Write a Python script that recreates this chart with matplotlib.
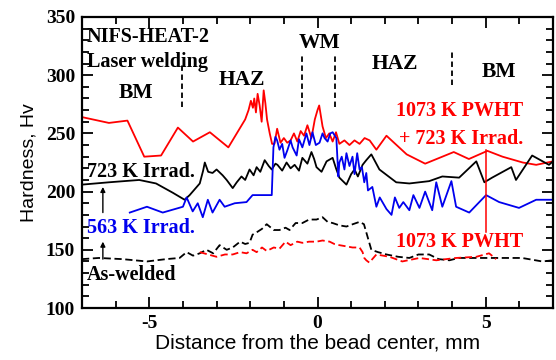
import matplotlib
matplotlib.use('Agg')
import matplotlib.pyplot as plt
import numpy as np

plt.rcParams['axes.unicode_minus'] = False

# 1073 K PWHT + 723 K Irrad. (red solid)
red_x = [-7.0, -6.2, -5.65, -5.15, -4.65, -4.15, -3.7, -3.2, -2.65, -2.15, -2.05, -1.98, -1.92, -1.88,
         -1.83, -1.78, -1.72, -1.66, -1.6, -1.55, -1.5, -1.42, -1.35, -1.28, -1.2, -1.1, -1.0, -0.9,
         -0.8, -0.7, -0.6, -0.5, -0.4, -0.3, -0.18, -0.08, 0.0, 0.05, 0.15, 0.25, 0.35, 0.45, 0.55,
         0.65, 0.8, 0.95, 1.1, 1.25, 1.4, 1.55, 1.75, 2.05, 2.65, 3.2, 4.05, 4.5, 5.05, 5.5, 6.1, 6.5, 7.0]
red_y = [264, 259, 261, 230, 231, 255, 243, 251, 238, 262, 270, 278, 272, 280,
         268, 284, 274, 260, 287, 276, 262, 250, 241, 241, 254, 242, 246, 242,
         244, 250, 243, 252, 248, 257, 246, 262, 270, 274, 256, 246, 250, 243, 251,
         241, 244, 240, 244, 241, 246, 244, 236, 248, 232, 224, 234, 228, 235, 230, 225, 223, 226]

# 723 K Irrad. (black solid)
blk_x = [-7.0, -6.2, -5.3, -4.8, -4.3, -3.95, -3.8, -3.5, -3.4, -3.35, -3.25, -3.12, -3.0, -2.82,
         -2.7, -2.52, -2.4, -2.26, -2.15, -2.02, -1.9, -1.81, -1.7, -1.57, -1.45, -1.36, -1.25, -1.19,
         -1.05, -0.92, -0.8, -0.68, -0.55, -0.45, -0.3, -0.18, -0.1, -0.03, 0.12, 0.27, 0.45, 0.55,
         0.65, 0.86, 1.0, 1.1, 1.2, 1.34, 1.45, 1.6, 1.84, 2.34, 2.73, 3.32, 3.71, 4.21, 4.72, 4.96,
         5.19, 5.76, 5.9, 6.38, 6.88, 7.0]
blk_y = [206, 208, 210, 207, 199, 193, 197, 207, 218, 225, 217, 216, 219, 214,
         210, 203, 208, 213, 210, 219, 214, 221, 217, 227, 222, 219, 224, 223,
         218, 225, 220, 223, 218, 229, 224, 234, 228, 221, 217, 226, 229, 220,
         212, 206, 215, 219, 213, 223, 227, 232, 219, 208, 207, 209, 213, 212, 226, 208,
         212, 221, 210, 231, 223, 226]

# 563 K Irrad. (blue solid)
blu_x = [-5.58, -5.07, -4.6, -4.0, -3.89, -3.71, -3.56, -3.41, -3.26, -3.12, -2.91, -2.76, -2.46,
         -2.11, -1.93, -1.66, -1.36, -1.31, -1.25, -1.2, -1.13, -1.05, -0.98, -0.89, -0.8, -0.74,
         -0.62, -0.55, -0.45, -0.33, -0.24, -0.15, -0.05, 0.06, 0.15, 0.21, 0.3, 0.38, 0.45, 0.56,
         0.62, 0.65, 0.72, 0.8, 0.86, 0.95, 1.04, 1.1, 1.18, 1.25, 1.32, 1.39, 1.45, 1.5, 1.63,
         1.75, 1.85, 1.93, 2.05, 2.2, 2.3, 2.43, 2.55, 2.73, 2.85, 3.03, 3.2, 3.41, 3.53, 3.71,
         3.98, 4.12, 4.51, 5.01, 5.4, 5.99, 6.5, 7.0]
blu_y = [182, 187, 182, 187, 195, 183, 190, 178, 193, 182, 193, 187, 190,
         191, 197, 197, 197, 238, 247, 244, 236, 241, 229, 236, 244, 238,
         231, 245, 238, 250, 240, 251, 240, 242, 250, 246, 243, 250, 251, 246,
         213, 225, 230, 219, 233, 222, 230, 215, 233, 219, 221, 208, 216, 201, 204,
         187, 195, 191, 185, 180, 195, 186, 191, 184, 197, 186, 200, 184, 208, 187,
         209, 187, 182, 197, 191, 186, 193, 193]

# As-welded (black dashed)
asw_x = [-7.0, -6.5, -5.8, -5.07, -4.5, -4.1, -3.89, -3.7, -3.5, -3.3, -3.1, -2.91, -2.7, -2.52,
         -2.3, -2.15, -2.02, -1.93, -1.81, -1.65, -1.51, -1.3, -1.13, -0.95, -0.83, -0.65, -0.45,
         -0.25, -0.03, 0.15, 0.3, 0.45, 0.65, 0.86, 1.05, 1.25, 1.38, 1.45, 1.52, 1.6, 1.8, 2.05,
         2.4, 2.73, 3.0, 3.32, 3.6, 3.92, 4.2, 4.51, 5.0, 5.49, 6.08, 6.68, 7.0]
asw_y = [142, 143, 142, 140, 142, 143, 148, 145, 147, 150, 147, 154, 150, 152,
         157, 155, 156, 163, 165, 168, 172, 167, 167, 169, 167, 173, 173,
         176, 176, 178, 174, 173, 171, 170, 172, 174, 172, 165, 158, 150, 148, 146,
         144, 143, 146, 146, 142, 141, 143, 143, 143, 143, 143, 140, 141]

# 1073 K PWHT (red dashed)
pw_x = [-3.5, -3.25, -3.0, -2.75, -2.52, -2.3, -2.11, -1.93, -1.81, -1.65, -1.51, -1.3, -1.13,
        -0.95, -0.8, -0.6, -0.45, -0.25, -0.03, 0.15, 0.36, 0.5, 0.65, 0.85, 1.04, 1.25, 1.34,
        1.39, 1.45, 1.54, 1.75, 2.14, 2.52, 3.03, 3.53, 4.12, 4.72, 5.1, 5.31]
pw_y = [148, 146, 144, 146, 146, 148, 147, 150, 148, 152, 149, 152, 151,
        157, 154, 157, 156, 157, 157, 158, 157, 155, 154, 153, 152, 152, 148,
        143, 141, 139, 146, 144, 140, 143, 141, 143, 144, 147, 142]

# zone boundaries (x, y from, y to)
bounds = [(-4.04, 273, 310), (-0.47, 273, 317), (0.53, 273, 317), (4.0, 292, 320)]
zones = [('BM', -5.4, 285), ('HAZ', -2.26, 296), ('WM', 0.06, 328), ('HAZ', 2.31, 310), ('BM', 5.4, 303)]

serif = 'Liberation Serif'
sans = 'Liberation Sans'
fs = 14.5

fig = plt.figure(figsize=(5.56, 3.6), dpi=100)
ax = fig.add_axes([0.1475, 0.1444, 0.8471, 0.8084])

ax.plot(red_x, red_y, color='#ff0000', lw=1.3)
ax.plot(blk_x, blk_y, color='black', lw=1.3)
ax.plot(blu_x, blu_y, color='#0000ee', lw=1.3)
ax.plot(asw_x, asw_y, color='black', lw=1.3, ls=(0, (4, 2)))
ax.plot(pw_x, pw_y, color='#ff0000', lw=1.3, ls=(0, (4, 2)))

for bx, y0, y1 in bounds:
    ax.plot([bx, bx], [y0, y1], color='black', lw=1.3, ls=(0, (3, 2)))

for name, zx, zy in zones:
    ax.text(zx, zy, name, ha='center', va='center', family=serif, weight='bold', fontsize=15.5)

ax.text(-6.85, 333, 'NIFS-HEAT-2', ha='left', va='center', family=serif, weight='bold', fontsize=fs)
ax.text(-6.85, 311, 'Laser welding', ha='left', va='center', family=serif, weight='bold', fontsize=fs)
ax.text(-6.85, 217, '723 K Irrad.', ha='left', va='center', family=serif, weight='bold', fontsize=fs)
ax.text(-6.85, 169, '563 K Irrad.', ha='left', va='center', family=serif, weight='bold',
        fontsize=fs, color='#0000ee')
ax.text(-6.85, 128, 'As-welded', ha='left', va='center', family=serif, weight='bold', fontsize=fs)
ax.text(4.23, 269, '1073 K PWHT', ha='center', va='center', family=serif, weight='bold',
        fontsize=fs, color='#ff0000')
ax.text(4.27, 245, '+ 723 K Irrad.', ha='center', va='center', family=serif, weight='bold',
        fontsize=fs, color='#ff0000')
ax.text(4.21, 157, '1073 K PWHT', ha='center', va='center', family=serif, weight='bold',
        fontsize=fs, color='#ff0000')

# arrows and pointer line
arw = dict(arrowstyle='-|>', color='black', lw=1.0, mutation_scale=7, shrinkA=0, shrinkB=0)
ax.annotate('', xy=(-6.38, 204), xytext=(-6.38, 182), arrowprops=arw)
ax.annotate('', xy=(-6.38, 157), xytext=(-6.38, 142), arrowprops=arw)
ax.plot([5.0, 5.0], [236, 165], color='#ff0000', lw=1.1)

ax.set_xlim(-7, 7)
ax.set_ylim(100, 350)
ax.set_xticks([-5, 0, 5])
ax.set_xticks(np.arange(-6, 7, 1), minor=True)
ax.set_yticks(np.arange(100, 351, 50))
ax.set_yticks(np.arange(100, 351, 10), minor=True)
ax.tick_params(which='both', direction='in', top=True, right=True, width=1.3, pad=5)
ax.tick_params(which='major', length=8)
ax.tick_params(which='minor', length=5)
for lab in ax.get_xticklabels() + ax.get_yticklabels():
    lab.set_family(serif)
    lab.set_weight('bold')
    lab.set_fontsize(14)
for s in ax.spines.values():
    s.set_linewidth(1.6)

ax.set_xlabel('Distance from the bead center, mm', family=sans, fontsize=15, labelpad=1)
ax.set_ylabel('Hardness, Hv', family=sans, fontsize=14, labelpad=6)

fig.savefig('out.png', dpi=100)
